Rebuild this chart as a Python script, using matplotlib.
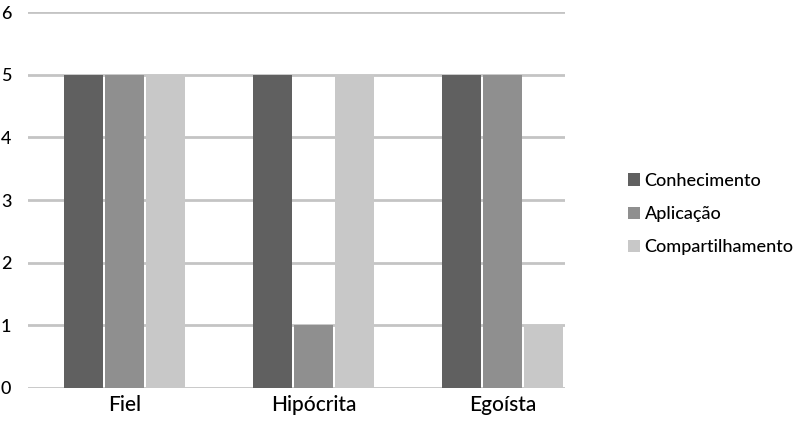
import matplotlib
matplotlib.use("Agg")
import matplotlib.pyplot as plt
import numpy as np

categories = ["Fiel", "Hipócrita", "Egoísta"]
series_names = ["Conhecimento", "Aplicação", "Compartilhamento"]
conhecimento = [5, 5, 5]
aplicacao = [5, 1, 5]
compartilhamento = [5, 5, 1]
y_ticks = [0, 1, 2, 3, 4, 5, 6]

colors = ["#606060", "#8f8f8f", "#c8c8c8"]

plt.rcParams['font.family'] = ['Lato', 'DejaVu Sans']

fig = plt.figure(figsize=(8.03, 4.26), dpi=100)
ax = fig.add_axes([28/803, 38/426, (565-28)/803, (388-12)/426])

x = np.arange(len(categories))
width = 0.206
step = 0.216
for i, (vals, name) in enumerate(zip([conhecimento, aplicacao, compartilhamento], series_names)):
    ax.bar(x + (i - 1) * step, vals, width=width, color=colors[i], label=name, zorder=3)

ax.set_ylim(0, 6)
ax.set_xlim(-0.51, 2.33)
ax.set_yticks(y_ticks)
ax.set_yticklabels([str(t) for t in y_ticks], fontsize=13, fontweight='medium')
ax.set_xticks(x)
ax.set_xticklabels(categories, fontsize=15, fontweight='medium')
ax.tick_params(axis='both', length=0)
ax.tick_params(axis='y', pad=12)
ax.tick_params(axis='x', pad=5)
ax.grid(axis='y', color='#c4c4c4', linewidth=2, zorder=0)
for s in ax.spines.values():
    s.set_visible(False)

leg = fig.legend(loc='center left', bbox_to_anchor=(612/803, 1 - 214/426), frameon=False,
                 prop={'size': 13, 'weight': 'medium'}, handlelength=0.65, handleheight=0.65,
                 handletextpad=0.25, labelspacing=0.95)

fig.savefig("out.png", dpi=100)
